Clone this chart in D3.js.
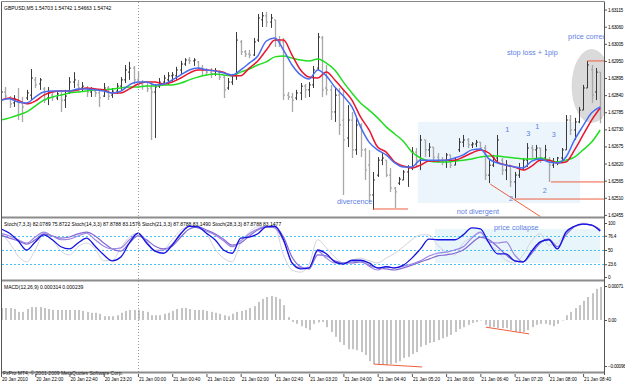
<!DOCTYPE html>
<html>
<head>
    <meta charset="utf-8">
    <title>GBPUSD,M5</title>
    <style>
        body { margin: 0; background: #fff; }
        svg { display: block; font-family: "Liberation Sans", Arial, sans-serif; }
        .small { font-size: 5px; fill: #000; }
        .note { font-size: 7.3px; fill: #5f7fe4; }
        .axis text { font-size: 4.7px; fill: #000; font-family: "Liberation Sans", Arial, sans-serif; }
        .yaxis text { letter-spacing: -0.25px; }
        .axis line { stroke: #555; }
        .axis path { display: none; }
        .sep { stroke: #8c8c8c; stroke-width: 2; }
        .mark { stroke: #ee6040; stroke-width: 1; fill: none; }
    </style>
</head>
<body>
<svg id="chart" width="625" height="385"></svg>
<script src="https://d3js.org/d3.v7.min.js"></script>
<script>
// price bars, GBPUSD M5, one per 5 minutes from 20 Jan 21:20
const barHigh = [1.62869,1.62866,1.62837,1.62840,1.62863,1.62834,1.62857,1.62924,1.62898,1.62895,
    1.62866,1.62866,1.62850,1.62850,1.62850,1.62857,1.62898,1.62914,1.62889,1.62882,
    1.62869,1.62866,1.62863,1.62857,1.62879,1.62869,1.62863,1.62879,1.62898,1.62937,
    1.62947,1.62934,1.62914,1.62889,1.62879,1.62876,1.62876,1.62895,1.62905,1.62914,
    1.62914,1.62931,1.62950,1.62959,1.62963,1.62959,1.62950,1.62937,1.62927,1.62927,
    1.62927,1.62921,1.62905,1.62895,1.62908,1.63043,1.63017,1.62985,1.62985,1.63024,
    1.63101,1.63107,1.63107,1.63101,1.63082,1.63030,1.63024,1.62850,1.62847,1.62857,
    1.62879,1.62876,1.62882,1.62934,1.63040,1.63030,1.62937,1.62873,1.62863,1.62863,
    1.62857,1.62808,1.62786,1.62770,1.62750,1.62670,1.62664,1.62593,1.62641,1.62657,
    1.62631,1.62606,1.62545,1.62577,1.62599,1.62615,1.62673,1.62670,1.62712,1.62696,
    1.62686,1.62673,1.62654,1.62641,1.62654,1.62648,1.62638,1.62702,1.62712,1.62702,
    1.62689,1.62696,1.62689,1.62680,1.62631,1.62648,1.62712,1.62638,1.62631,1.62615,
    1.62593,1.62622,1.62638,1.62686,1.62680,1.62680,1.62670,1.62680,1.62641,1.62638,
    1.62641,1.62670,1.62776,1.62776,1.62767,1.62802,1.62873,1.62950,1.62937,1.62927,1.62914];
const barLow = [1.62815,1.62828,1.62799,1.62802,1.62760,1.62754,1.62824,1.62824,1.62863,1.62857,
    1.62815,1.62808,1.62821,1.62824,1.62786,1.62799,1.62844,1.62863,1.62850,1.62850,
    1.62834,1.62834,1.62834,1.62802,1.62834,1.62824,1.62831,1.62844,1.62857,1.62879,
    1.62889,1.62876,1.62863,1.62857,1.62850,1.62696,1.62702,1.62863,1.62876,1.62873,
    1.62882,1.62889,1.62908,1.62934,1.62940,1.62934,1.62921,1.62905,1.62902,1.62895,
    1.62902,1.62889,1.62831,1.62857,1.62873,1.62889,1.62969,1.62963,1.62959,1.62966,
    1.63011,1.63059,1.63059,1.63056,1.62995,1.62995,1.62824,1.62824,1.62786,1.62824,
    1.62824,1.62831,1.62834,1.62863,1.62921,1.62834,1.62840,1.62760,1.62754,1.62712,
    1.62519,1.62673,1.62638,1.62648,1.62641,1.62567,1.62496,1.62471,1.62577,1.62615,
    1.62577,1.62529,1.62477,1.62551,1.62567,1.62545,1.62599,1.62609,1.62599,1.62641,
    1.62641,1.62631,1.62622,1.62615,1.62606,1.62606,1.62615,1.62657,1.62673,1.62670,
    1.62670,1.62673,1.62664,1.62567,1.62557,1.62609,1.62622,1.62583,1.62567,1.62545,
    1.62509,1.62574,1.62599,1.62609,1.62638,1.62638,1.62622,1.62631,1.62561,1.62606,
    1.62615,1.62631,1.62664,1.62712,1.62696,1.62750,1.62792,1.62863,1.62815,1.62824,1.62750];
const barOpen = [1.62840,1.62850,1.62831,1.62815,1.62824,1.62815,1.62831,1.62840,1.62889,1.62876,
    1.62860,1.62831,1.62840,1.62831,1.62840,1.62824,1.62850,1.62882,1.62873,1.62863,
    1.62863,1.62850,1.62853,1.62847,1.62837,1.62863,1.62840,1.62853,1.62869,1.62889,
    1.62914,1.62927,1.62889,1.62876,1.62869,1.62863,1.62850,1.62869,1.62882,1.62889,
    1.62902,1.62902,1.62921,1.62940,1.62953,1.62950,1.62947,1.62927,1.62921,1.62914,
    1.62908,1.62914,1.62898,1.62863,1.62882,1.62902,1.63011,1.62979,1.62972,1.62969,
    1.63017,1.63082,1.63095,1.63075,1.63082,1.63017,1.63011,1.62840,1.62834,1.62831,
    1.62847,1.62869,1.62857,1.62873,1.62927,1.63024,1.62863,1.62857,1.62786,1.62840,
    1.62760,1.62702,1.62760,1.62664,1.62744,1.62664,1.62615,1.62519,1.62583,1.62631,
    1.62631,1.62583,1.62541,1.62557,1.62567,1.62593,1.62606,1.62657,1.62631,1.62696,
    1.62664,1.62673,1.62641,1.62631,1.62625,1.62648,1.62615,1.62664,1.62689,1.62696,
    1.62680,1.62683,1.62689,1.62670,1.62583,1.62615,1.62638,1.62631,1.62599,1.62615,
    1.62561,1.62583,1.62606,1.62631,1.62670,1.62664,1.62670,1.62638,1.62631,1.62615,
    1.62625,1.62638,1.62664,1.62760,1.62728,1.62754,1.62792,1.62863,1.62921,1.62850,1.62914];
const barClose = [1.62850,1.62837,1.62812,1.62828,1.62815,1.62802,1.62847,1.62895,1.62873,1.62889,
    1.62824,1.62847,1.62834,1.62844,1.62824,1.62837,1.62882,1.62889,1.62863,1.62869,
    1.62850,1.62857,1.62847,1.62831,1.62863,1.62837,1.62853,1.62869,1.62889,1.62921,
    1.62927,1.62889,1.62876,1.62869,1.62860,1.62850,1.62866,1.62882,1.62895,1.62902,
    1.62905,1.62921,1.62940,1.62953,1.62950,1.62953,1.62927,1.62921,1.62914,1.62908,
    1.62918,1.62898,1.62857,1.62882,1.62902,1.63017,1.62979,1.62972,1.62969,1.63011,
    1.63088,1.63095,1.63075,1.63088,1.63017,1.63011,1.62840,1.62834,1.62824,1.62847,
    1.62869,1.62857,1.62873,1.62921,1.63027,1.62857,1.62857,1.62786,1.62840,1.62744,
    1.62696,1.62760,1.62664,1.62744,1.62664,1.62599,1.62519,1.62567,1.62631,1.62638,
    1.62583,1.62541,1.62529,1.62570,1.62593,1.62606,1.62657,1.62631,1.62696,1.62664,
    1.62673,1.62641,1.62631,1.62625,1.62648,1.62615,1.62631,1.62689,1.62696,1.62680,
    1.62683,1.62689,1.62670,1.62583,1.62615,1.62638,1.62696,1.62599,1.62615,1.62561,
    1.62583,1.62606,1.62631,1.62670,1.62664,1.62670,1.62638,1.62664,1.62615,1.62625,
    1.62638,1.62664,1.62760,1.62728,1.62754,1.62792,1.62863,1.62937,1.62840,1.62914,1.62767];

// moving averages, read every second bar
const maBlue = [1.62824,1.62828,1.62818,1.62815,1.62834,1.62850,1.62853,1.62853,1.62853,1.62860,
    1.62860,1.62857,1.62853,1.62847,1.62853,1.62873,1.62882,1.62882,1.62873,1.62876,
    1.62889,1.62905,1.62921,1.62927,1.62921,1.62918,1.62911,1.62905,1.62921,1.62943,
    1.62966,1.63014,1.63024,1.62985,1.62937,1.62905,1.62892,1.62921,1.62902,1.62866,
    1.62837,1.62802,1.62738,1.62689,1.62664,1.62648,1.62622,1.62609,1.62609,1.62631,
    1.62631,1.62631,1.62631,1.62638,1.62648,1.62664,1.62667,1.62635,1.62622,1.62615,
    1.62609,1.62606,1.62628,1.62635,1.62625,1.62622,1.62641,1.62696,1.62741,1.62783,1.62802];
const maRed = [1.62824,1.62831,1.62824,1.62812,1.62821,1.62840,1.62850,1.62853,1.62853,1.62857,
    1.62863,1.62860,1.62857,1.62847,1.62847,1.62860,1.62876,1.62882,1.62882,1.62876,
    1.62882,1.62895,1.62911,1.62921,1.62921,1.62918,1.62914,1.62902,1.62902,1.62927,
    1.62950,1.62985,1.63017,1.63017,1.62969,1.62921,1.62898,1.62895,1.62914,1.62889,
    1.62857,1.62824,1.62770,1.62728,1.62673,1.62657,1.62625,1.62612,1.62606,1.62615,
    1.62628,1.62628,1.62631,1.62631,1.62641,1.62654,1.62664,1.62654,1.62625,1.62615,
    1.62609,1.62599,1.62612,1.62631,1.62631,1.62622,1.62625,1.62664,1.62712,1.62760,1.62799];
const maGreen = [1.62760,1.62767,1.62776,1.62786,1.62805,1.62824,1.62834,1.62840,1.62847,1.62850,
    1.62853,1.62857,1.62857,1.62860,1.62863,1.62866,1.62866,1.62869,1.62869,1.62873,
    1.62873,1.62879,1.62889,1.62898,1.62905,1.62908,1.62905,1.62902,1.62914,1.62924,
    1.62937,1.62947,1.62963,1.62966,1.62959,1.62953,1.62950,1.62956,1.62943,1.62921,
    1.62882,1.62847,1.62815,1.62792,1.62767,1.62738,1.62715,1.62692,1.62657,1.62638,
    1.62628,1.62625,1.62625,1.62628,1.62631,1.62635,1.62641,1.62644,1.62644,1.62641,
    1.62638,1.62635,1.62635,1.62638,1.62631,1.62625,1.62631,1.62641,1.62664,1.62689,1.62728];

// stochastics, read every second bar
const stBlue = [89,81,67,50,65,78,69,56,52,63,72,57,41,30,37,63,81,63,48,44,59,80,94,93,81,69,50,44,72,74,
    80,93,94,69,26,15,17,50,43,28,24,31,31,26,17,19,17,22,35,52,70,69,69,69,78,91,89,63,43,43,
    30,28,48,65,69,52,83,94,98,96,85];
const stPurple = [81,76,69,63,74,83,76,69,70,76,81,69,57,52,54,69,81,65,48,50,61,81,94,91,85,78,67,56,67,80,
    89,94,91,67,26,17,17,48,35,26,26,28,30,20,13,19,17,20,24,30,39,44,46,50,56,72,83,65,63,65,
    41,28,48,65,70,52,83,94,98,96,85];
const stSlate = [78,72,67,61,69,80,76,72,74,80,83,76,63,52,48,63,76,69,57,52,57,74,89,93,87,80,70,59,63,76,
    87,93,93,74,37,19,15,41,39,30,26,26,28,22,17,15,13,17,22,28,33,39,41,44,50,63,74,69,56,41,
    30,28,44,63,70,56,78,93,98,96,87];
const stGray = [81,63,39,28,50,80,69,48,41,56,63,52,30,31,54,74,81,67,50,52,69,87,93,93,81,52,35,28,63,83,
    93,93,91,41,13,9,24,69,54,37,26,31,35,30,26,35,44,56,69,78,78,59,46,41,63,74,81,63,48,31,
    26,41,67,80,59,63,83,94,100,96,89];

// MACD histogram, one per bar
const macdHist = [0.00025,0.00025,0.00025,0.00023,0.00017,0.00017,0.00023,0.00027,0.00027,0.00027,
    0.00025,0.00023,0.00021,0.00021,0.00021,0.00021,0.00021,0.00021,0.00021,0.00019,
    0.00017,0.00015,0.00015,0.00013,0.00008,0.00008,0.00008,0.00010,0.00015,0.00019,
    0.00021,0.00021,0.00021,0.00019,0.00017,0.00010,0.00010,0.00010,0.00013,0.00015,
    0.00019,0.00023,0.00025,0.00025,0.00023,0.00021,0.00021,0.00021,0.00019,0.00017,
    0.00015,0.00013,0.00010,0.00008,0.00013,0.00017,0.00019,0.00021,0.00025,0.00029,
    0.00038,0.00044,0.00048,0.00050,0.00048,0.00044,0.00031,0.00006,-0.00004,-0.00008,
    -0.00013,-0.00017,-0.00021,-0.00008,-0.00005,-0.00004,-0.00015,-0.00025,-0.00035,-0.00046,
    -0.00052,-0.00061,-0.00061,-0.00063,-0.00067,-0.00073,-0.00086,-0.00092,-0.00094,-0.00094,
    -0.00094,-0.00092,-0.00090,-0.00086,-0.00079,-0.00077,-0.00071,-0.00067,-0.00056,-0.00052,
    -0.00048,-0.00046,-0.00042,-0.00038,-0.00035,-0.00031,-0.00025,-0.00019,-0.00015,-0.00010,
    -0.00006,-0.00004,-0.00001,-0.00010,-0.00015,-0.00015,-0.00017,-0.00017,-0.00017,-0.00021,
    -0.00025,-0.00025,-0.00025,-0.00021,-0.00015,-0.00010,-0.00008,-0.00008,-0.00010,-0.00013,
    -0.00008,-0.00001,0.00010,0.00017,0.00025,0.00031,0.00040,0.00048,0.00056,0.00065,0.00069];

const priceTicks = [1.63115,1.63060,1.63005,1.62950,1.62895,1.62840,1.62785,1.62730,1.62675,1.62620,1.62565,1.62510,1.62455];
const stochTicks = [100, 76.4, 50, 23.6, 0];
const stochLevels = [76.4, 50, 23.6];
const macdTicks = [0.00071, 0, -0.00096];
const timeBars = [0,8,16,24,32,40,48,56,64,72,80,88,96,104,112,120,128,136];
const timeLabels = ["20 Jan 2010","20 Jan 22:00","20 Jan 22:40","20 Jan 23:20","21 Jan 00:00","21 Jan 00:40",
    "21 Jan 01:20","21 Jan 02:00","21 Jan 02:40","21 Jan 03:20","21 Jan 04:00","21 Jan 04:40","21 Jan 05:20",
    "21 Jan 06:00","21 Jan 06:40","21 Jan 07:20","21 Jan 08:00","21 Jan 08:40"];

// drawn objects on the chart (bar index, price)
const priceLines = [
    {b0: 137, p0: 1.62950, b1: 141, p1: 1.62950},
    {b0: 128.5, p0: 1.62561, b1: 141, p1: 1.62561},
    {b0: 120, p0: 1.62506, b1: 141, p1: 1.62506},
    {b0: 114.3, p0: 1.62554, b1: 126.2, p1: 1.62448},
    {b0: 86.9, p0: 1.62474, b1: 95.1, p1: 1.62474}
];
const macdLines = [
    {b0: 87.1, v0: -0.00092, b1: 98.4, v1: -0.00098},
    {b0: 113.3, v0: -0.00015, b1: 123.4, v1: -0.00029}
];
const priceNotes = [
    {t: "stop loss + 1pip", b: 118.2, p: 1.62969},
    {t: "price correction", b: 132.5, p: 1.63021},
    {t: "divercence", b: 78.5, p: 1.62490},
    {t: "not divergent", b: 106.5, p: 1.62458},
    {t: "1", b: 117.8, p: 1.62721},
    {t: "3", b: 122.7, p: 1.62709},
    {t: "1", b: 124.8, p: 1.62731},
    {t: "3", b: 128.7, p: 1.62705},
    {t: "2", b: 126.6, p: 1.62525},
    {t: "2", b: 118.7, p: 1.62500}
];

const svg = d3.select('#chart');
const left = 2, right = 604;
const x = d3.scaleLinear().domain([0, 140]).range([1, 600.2]);
const yP = d3.scaleLinear().domain([1.62455, 1.63115]).range([214.9, 9.6]);
const yS = d3.scaleLinear().domain([0, 100]).range([277, 223]);
const yM = d3.scaleLinear().domain([-0.00096, 0.00071]).range([366, 286]);

const defs = svg.append('defs');
function clip(id, y0, y1) {
    defs.append('clipPath').attr('id', id).append('rect')
        .attr('x', left).attr('y', y0).attr('width', right - left).attr('height', y1 - y0);
    return svg.append('g').attr('clip-path', `url(#${id})`);
}
const gMain = clip('cMain', 2, 216.5);
const gSt = clip('cSt', 218.5, 279.5);
const gMa = clip('cMa', 281.5, 371.5);

// ---- main window ----
gMain.append('rect')
    .attr('x', x(97.4)).attr('y', yP(1.62754))
    .attr('width', x(135.3) - x(97.4)).attr('height', yP(1.62493) - yP(1.62754))
    .attr('fill', '#ebf5fb');
gMain.append('ellipse')
    .attr('cx', x(138)).attr('cy', yP(1.62869)).attr('rx', 20).attr('ry', 37)
    .attr('fill', '#dadada');

const bars = barHigh.map((h, i) => ({i, h, l: barLow[i], o: barOpen[i], c: barClose[i]}));
gMain.selectAll('path.bar').data(bars).join('path')
    .attr('class', 'bar')
    .attr('d', d => {
        const cx = Math.round(x(d.i)) + 0.5;
        return `M${cx},${yP(d.h)}V${yP(d.l)}M${cx - 1.5},${yP(d.o)}H${cx}M${cx},${yP(d.c)}H${cx + 1.5}`;
    })
    .attr('fill', 'none')
    .attr('stroke', d => d.c >= d.o ? '#3a3a3a' : '#a8a8a8')
    .attr('stroke-width', d => d.c >= d.o ? 1 : 1.3);

const sampleBars = d3.range(0, 141, 2);
const lineP = d3.line().x(d => x(d[0])).y(d => yP(d[1])).curve(d3.curveMonotoneX);
[[maGreen, '#22dd22'], [maRed, '#e8162e'], [maBlue, '#4a6cf0']].forEach(([s, col]) => {
    gMain.append('path')
        .attr('d', lineP(s.map((v, k) => [sampleBars[k], v])))
        .attr('fill', 'none').attr('stroke', col).attr('stroke-width', 1.5);
});

gMain.selectAll('line.pl').data(priceLines).join('line')
    .attr('class', 'mark')
    .attr('x1', d => x(d.b0)).attr('y1', d => yP(d.p0))
    .attr('x2', d => x(d.b1)).attr('y2', d => yP(d.p1));

gMain.selectAll('text.note').data(priceNotes).join('text')
    .attr('class', 'note')
    .attr('x', d => x(d.b)).attr('y', d => yP(d.p))
    .text(d => d.t);

svg.append('text').attr('class', 'small').attr('x', 4).attr('y', 10)
    .text('GBPUSD,M5  1.54703 1.54742 1.54663 1.54742');

// ---- stochastic window ----
gSt.append('rect')
    .attr('x', x(101.4)).attr('y', yS(88.9))
    .attr('width', x(140) - x(101.4)).attr('height', yS(25.9) - yS(88.9))
    .attr('fill', '#e8f5fb');
gSt.selectAll('line.lvl').data(stochLevels).join('line')
    .attr('x1', left).attr('x2', right)
    .attr('y1', d => Math.round(yS(d)) + 0.5).attr('y2', d => Math.round(yS(d)) + 0.5)
    .attr('stroke', '#44c4f0').attr('stroke-dasharray', '2,2');
const lineS = d3.line().x(d => x(d[0])).y(d => yS(d[1])).curve(d3.curveMonotoneX);
[[stGray, '#d2d2dc', 1], [stSlate, '#8468d4', 1.2], [stPurple, '#9c86e2', 1.2], [stBlue, '#1414e0', 1.3]].forEach(([s, col, w]) => {
    gSt.append('path')
        .attr('d', lineS(s.map((v, k) => [sampleBars[k], v])))
        .attr('fill', 'none').attr('stroke', col).attr('stroke-width', w);
});
gSt.append('text').attr('class', 'note').attr('x', x(115.2)).attr('y', yS(87)).text('price collapse');
svg.append('text').attr('class', 'small').attr('x', 4).attr('y', 226)
    .text('Stoch(7,3,3) 82.0789 75.8722  Stoch(14,3,3) 87.8788 83.1576  Stoch(21,3,3) 87.8788 83.1490  Stoch(28,3,3) 87.8788 83.1477');

// ---- MACD window ----
gMa.selectAll('rect.h').data(macdHist).join('rect')
    .attr('x', (d, i) => Math.round(x(i)))
    .attr('width', 2)
    .attr('y', d => Math.min(yM(d), yM(0)))
    .attr('height', d => Math.max(0.5, Math.abs(yM(d) - yM(0))))
    .attr('fill', '#c4c4c4');
gMa.selectAll('line.ml').data(macdLines).join('line')
    .attr('class', 'mark')
    .attr('x1', d => x(d.b0)).attr('y1', d => yM(d.v0))
    .attr('x2', d => x(d.b1)).attr('y2', d => yM(d.v1));
svg.append('text').attr('class', 'small').attr('x', 4).attr('y', 289)
    .text('MACD(12,26,9) 0.000314 0.000239');

// ---- frames ----
svg.append('line').attr('x1', Math.round(x(32)) + 0.5).attr('x2', Math.round(x(32)) + 0.5)
    .attr('y1', 2).attr('y2', 375).attr('stroke', '#999').attr('stroke-dasharray', '1,2');
[217.5, 280.5, 372.5].forEach(yy => {
    svg.append('line').attr('class', 'sep').attr('x1', 1).attr('x2', right).attr('y1', yy).attr('y2', yy);
});
svg.append('line').attr('x1', 1.5).attr('x2', 1.5).attr('y1', 1.5).attr('y2', 374).attr('stroke', '#555');
svg.append('line').attr('x1', 1.5).attr('x2', right).attr('y1', 1.5).attr('y2', 1.5).attr('stroke', '#888');
svg.append('line').attr('x1', right + 0.5).attr('x2', right + 0.5).attr('y1', 1.5).attr('y2', 375).attr('stroke', '#555');

svg.append('text').attr('class', 'small').attr('x', 3).attr('y', 374.5).style('fill', '#222')
    .text('FxPro MT4, \u00a9 2001-2009 MetaQuotes Software Corp.');

// ---- axes ----
svg.append('g').attr('class', 'axis yaxis').attr('transform', `translate(${right},0)`)
    .call(d3.axisRight(yP).tickValues(priceTicks).tickSize(3).tickPadding(1).tickFormat(d3.format('.5f')));
svg.append('g').attr('class', 'axis yaxis').attr('transform', `translate(${right},0)`)
    .call(d3.axisRight(yS).tickValues(stochTicks).tickSize(3).tickPadding(1).tickFormat(d => String(d)));
svg.append('g').attr('class', 'axis yaxis').attr('transform', `translate(${right},0)`)
    .call(d3.axisRight(yM).tickValues(macdTicks).tickSize(3).tickPadding(1)
        .tickFormat(d => d === 0 ? '0.00' : d3.format('.5f')(d)));
const tAxis = svg.append('g').attr('class', 'axis').attr('transform', 'translate(0,374)')
    .call(d3.axisBottom(x).tickValues(timeBars).tickSize(3).tickPadding(1)
        .tickFormat((d, k) => timeLabels[k]));
tAxis.selectAll('text').attr('text-anchor', 'start').attr('x', 0.5);
</script>
</body>
</html>
